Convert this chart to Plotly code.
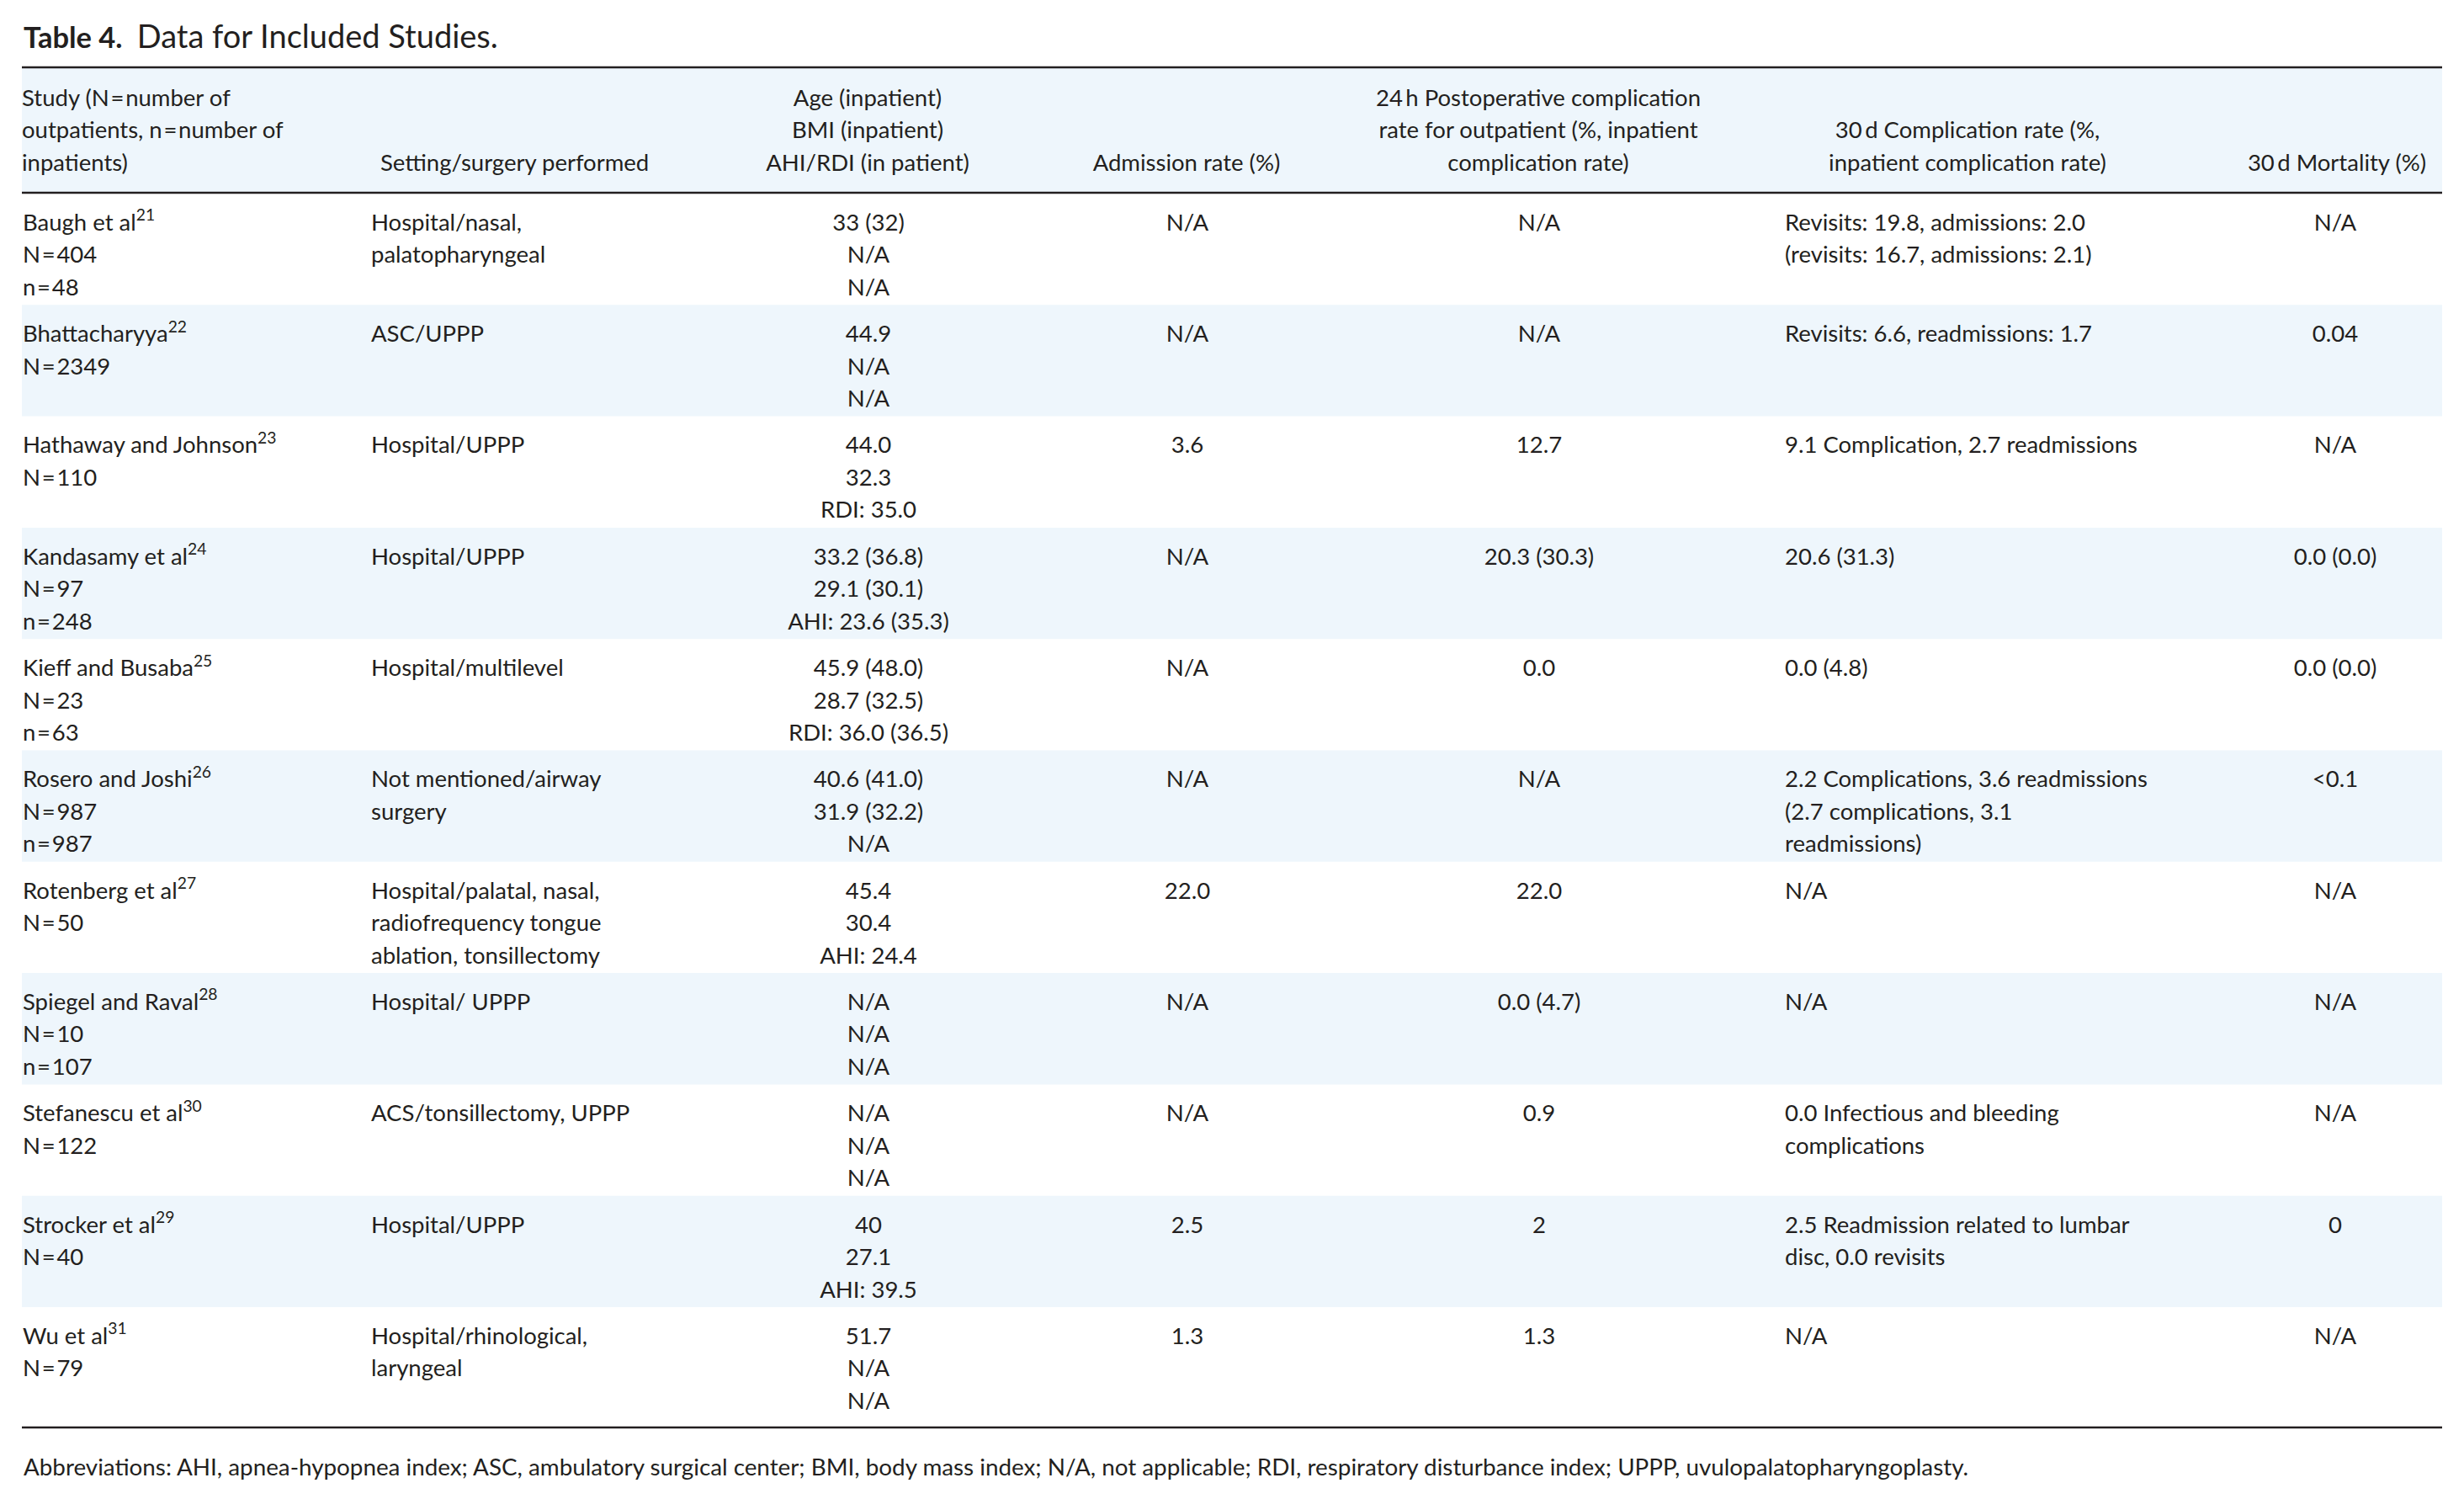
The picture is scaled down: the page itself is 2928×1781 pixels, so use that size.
import plotly.graph_objects as go

study = ["Baugh et al", "Bhattacharyya", "Hathaway and Johnson", "Kandasamy et al",
         "Kieff and Busaba", "Rosero and Joshi", "Rotenberg et al", "Spiegel and Raval",
         "Stefanescu et al", "Strocker et al", "Wu et al"]
ref_no = [21, 22, 23, 24, 25, 26, 27, 28, 30, 29, 31]
n_outpatients = [404, 2349, 110, 97, 23, 987, 50, 10, 122, 40, 79]
n_inpatients = [48, None, None, 248, 63, 987, None, 107, None, None, None]
setting = ["Hospital/nasal,<br>palatopharyngeal", "ASC/UPPP", "Hospital/UPPP", "Hospital/UPPP",
           "Hospital/multilevel", "Not mentioned/airway<br>surgery",
           "Hospital/palatal, nasal,<br>radiofrequency tongue<br>ablation, tonsillectomy",
           "Hospital/ UPPP", "ACS/tonsillectomy, UPPP", "Hospital/UPPP",
           "Hospital/rhinological,<br>laryngeal"]
age = ["33 (32)", "44.9", "44.0", "33.2 (36.8)", "45.9 (48.0)", "40.6 (41.0)", "45.4",
       "N/A", "N/A", "40", "51.7"]
bmi = ["N/A", "N/A", "32.3", "29.1 (30.1)", "28.7 (32.5)", "31.9 (32.2)", "30.4",
       "N/A", "N/A", "27.1", "N/A"]
ahi_rdi = ["N/A", "N/A", "RDI: 35.0", "AHI: 23.6 (35.3)", "RDI: 36.0 (36.5)", "N/A",
           "AHI: 24.4", "N/A", "N/A", "AHI: 39.5", "N/A"]
admission = ["N/A", "N/A", "3.6", "N/A", "N/A", "N/A", "22.0", "N/A", "N/A", "2.5", "1.3"]
postop_24h = ["N/A", "N/A", "12.7", "20.3 (30.3)", "0.0", "N/A", "22.0", "0.0 (4.7)",
              "0.9", "2", "1.3"]
complication_30d = ["Revisits: 19.8, admissions: 2.0<br>(revisits: 16.7, admissions: 2.1)",
                    "Revisits: 6.6, readmissions: 1.7",
                    "9.1 Complication, 2.7 readmissions",
                    "20.6 (31.3)", "0.0 (4.8)",
                    "2.2 Complications, 3.6 readmissions<br>(2.7 complications, 3.1<br>readmissions)",
                    "N/A", "N/A",
                    "0.0 Infectious and bleeding<br>complications",
                    "2.5 Readmission related to lumbar<br>disc, 0.0 revisits",
                    "N/A"]
mortality_30d = ["N/A", "0.04", "N/A", "0.0 (0.0)", "0.0 (0.0)", "&lt;0.1", "N/A", "N/A",
                 "N/A", "0", "N/A"]

# header lines, top to bottom ("" = blank line, text is bottom aligned)
header = [
    ["Study (N\u200a=\u200anumber of", "outpatients, n\u200a=\u200anumber of", "inpatients)"],
    ["", "", "Setting/surgery performed"],
    ["Age (inpatient)", "BMI (inpatient)", "AHI/RDI (in patient)"],
    ["", "", "Admission rate (%)"],
    ["24\u2009h Postoperative complication", "rate for outpatient (%, inpatient", "complication rate)"],
    ["", "30\u2009d Complication rate (%,", "inpatient complication rate)"],
    ["", "", "30\u2009d Mortality (%)"],
]
title_bold = "Table 4."
title_rest = "Data for Included Studies."
footnote = ("Abbreviations: AHI, apnea-hypopnea index; ASC, ambulatory surgical center; "
            "BMI, body mass index; N/A, not applicable; RDI, respiratory disturbance index; "
            "UPPP, uvulopalatopharyngoplasty.")

# ---- layout constants (pixels) ----
W, H = 2928, 1781
LEFT, RIGHT = 26, 2902
TOP_RULE, HEAD_RULE, BOTTOM_RULE = 80, 229, 1696
FIRST_ROW, ROW_H = 230, 132.3
LINE_H, FIRST_LINE = 38.5, 37
FONT = "Lato"
INK = "#231f20"
BAND = "#eef6fc"
FS = 27.5

study_cell = []
for s, r, no, ni in zip(study, ref_no, n_outpatients, n_inpatients):
    lines = [f"{s}<sup>{r}</sup>", f"N\u200a=\u200a{no}"]
    if ni is not None:
        lines.append(f"n\u200a=\u200a{ni}")
    study_cell.append("<br>".join(lines))
age_cell = ["<br>".join(t) for t in zip(age, bmi, ahi_rdi)]

# (values, x, align, header x, header align)
columns = [
    (study_cell, 27, "left", 26, "left"),
    (setting, 441, "left", 452, "left"),
    (age_cell, 1032, "center", 1031, "center"),
    (admission, 1411, "center", 1410, "center"),
    (postop_24h, 1829, "center", 1828, "center"),
    (complication_30d, 2121, "left", 2338, "center"),
    (mortality_30d, 2775, "center", 2777, "center"),
]

fig = go.Figure()

# shaded header and alternate rows
shapes = [dict(type="rect", x0=LEFT, x1=RIGHT, y0=TOP_RULE, y1=HEAD_RULE,
               fillcolor=BAND, line_width=0, layer="below")]
for i in range(len(study)):
    if i % 2 == 1:
        y0 = FIRST_ROW + i * ROW_H
        shapes.append(dict(type="rect", x0=LEFT, x1=RIGHT, y0=y0, y1=y0 + ROW_H,
                           fillcolor=BAND, line_width=0, layer="below"))
for y in (TOP_RULE, HEAD_RULE, BOTTOM_RULE):
    shapes.append(dict(type="line", x0=LEFT, x1=RIGHT, y0=y, y1=y,
                       line=dict(color=INK, width=2.6)))

pos = {"left": "middle right", "center": "middle center"}

for values, x, align, hx, halign in columns:
    xs, ys, ts = [], [], []
    for i, v in enumerate(values):
        for j, line in enumerate(v.split("<br>")):
            xs.append(x)
            ys.append(FIRST_ROW + i * ROW_H + FIRST_LINE + j * LINE_H)
            ts.append(line)
    fig.add_trace(go.Scatter(x=xs, y=ys, text=ts, mode="text", textposition=pos[align],
                             textfont=dict(family=FONT, size=FS, color=INK),
                             hoverinfo="skip", showlegend=False))

# header text sits on the bottom of the header band
for (values, x, align, hx, halign), head in zip(columns, header):
    ys = [HEAD_RULE - FIRST_LINE + 4 - (2 - j) * LINE_H for j in range(3)]
    keep = [j for j in range(3) if head[j]]
    fig.add_trace(go.Scatter(x=[hx] * len(keep), y=[ys[j] for j in keep],
                             text=[head[j] for j in keep], mode="text",
                             textposition=pos[halign],
                             textfont=dict(family=FONT, size=FS, color=INK),
                             hoverinfo="skip", showlegend=False))

fig.add_annotation(x=LEFT, y=42, xref="x", yref="y", xanchor="left", yanchor="middle",
                   showarrow=False,
                   text=f"<span style='font-size:34.5px'><b>{title_bold}</b>\u2002</span>{title_rest}",
                   font=dict(family=FONT, size=38, color=INK))
fig.add_annotation(x=LEFT, y=1742, xref="x", yref="y", xanchor="left", yanchor="middle",
                   showarrow=False, text=footnote,
                   font=dict(family=FONT, size=27.8, color=INK))

fig.update_layout(
    width=W, height=H, margin=dict(l=0, r=0, t=0, b=0),
    paper_bgcolor="white", plot_bgcolor="white",
    shapes=shapes,
    xaxis=dict(range=[0, W], visible=False, fixedrange=True),
    yaxis=dict(range=[H, 0], visible=False, fixedrange=True),
)

fig.write_html("out.html", config={"displayModeBar": False},
               post_script="document.body.style.margin='0';")
